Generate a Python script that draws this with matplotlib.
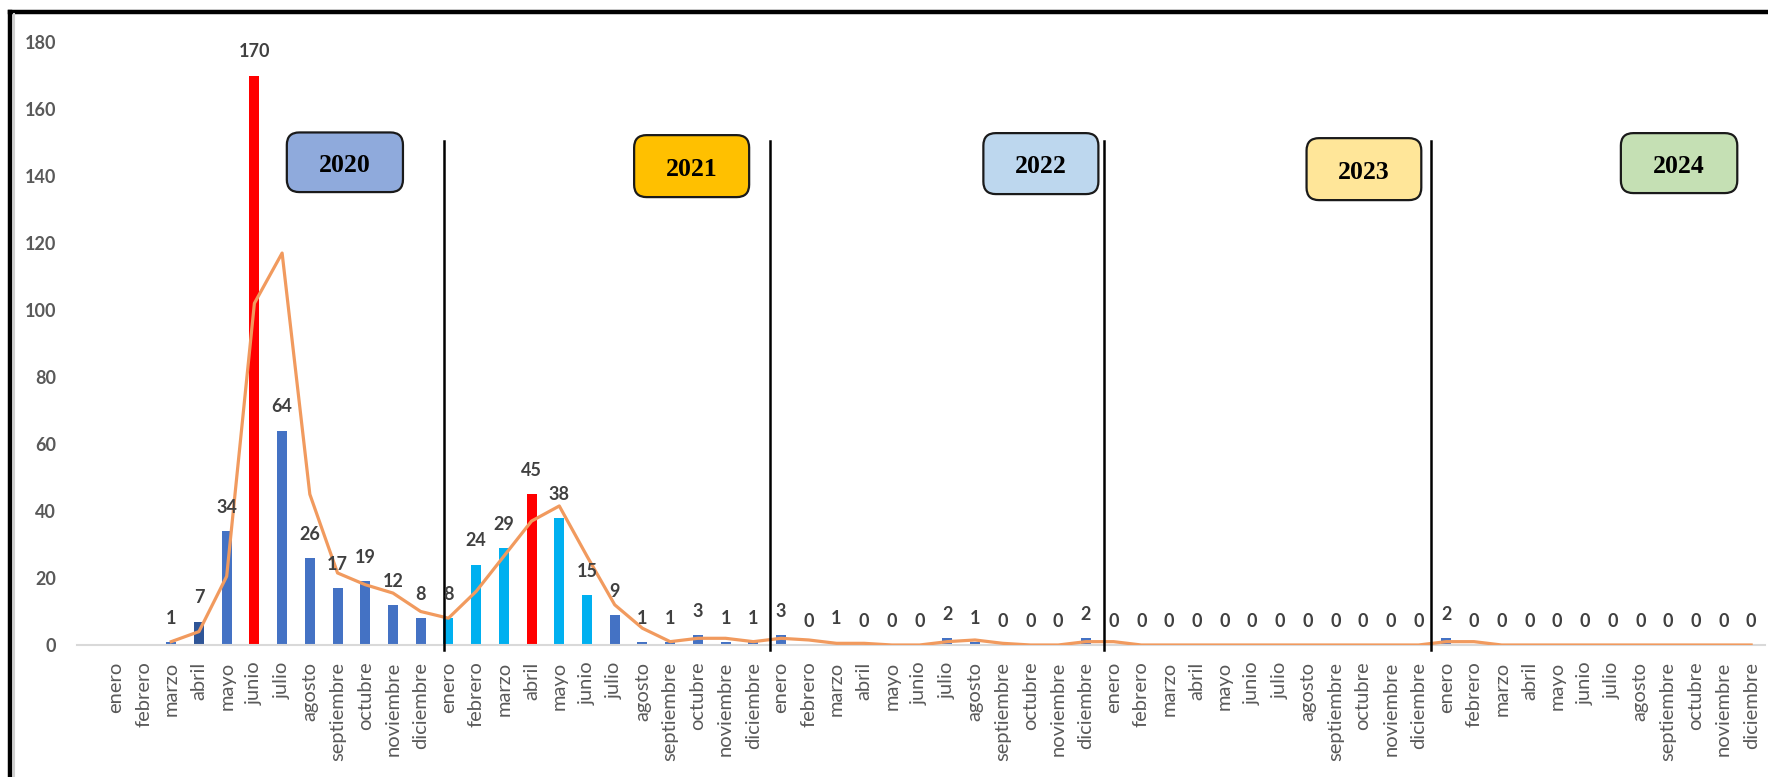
import numpy as np
import matplotlib
matplotlib.use("Agg")
import matplotlib.pyplot as plt
from matplotlib.patches import FancyBboxPatch
from matplotlib.lines import Line2D

plt.rcParams['font.family'] = ['Lato', 'DejaVu Sans']

# data
meses = ['enero', 'febrero', 'marzo', 'abril', 'mayo', 'junio', 'julio',
         'agosto', 'septiembre', 'octubre', 'noviembre', 'diciembre']
years = ['2020', '2021', '2022', '2023', '2024']

casos_2020 = [None, None, 1, 7, 34, 170, 64, 26, 17, 19, 12, 8]
casos_2021 = [8, 24, 29, 45, 38, 15, 9, 1, 1, 3, 1, 1]
casos_2022 = [3, 0, 1, 0, 0, 0, 2, 1, 0, 0, 0, 2]
casos_2023 = [0, 0, 0, 0, 0, 0, 0, 0, 0, 0, 0, 0]
casos_2024 = [2, 0, 0, 0, 0, 0, 0, 0, 0, 0, 0, 0]

# orange trend line (2-period moving average)
tendencia = [None, None, 1, 4, 20.5, 102, 117, 45, 21.5, 18, 15.5, 10,
             8, 16, 26.5, 37, 41.5, 26.5, 12, 5, 1, 2, 2, 1,
             2, 1.5, 0.5, 0.5, 0, 0, 1, 1.5, 0.5, 0, 0, 1,
             1, 0, 0, 0, 0, 0, 0, 0, 0, 0, 0, 0,
             1, 1, 0, 0, 0, 0, 0, 0, 0, 0, 0, 0]

casos = casos_2020 + casos_2021 + casos_2022 + casos_2023 + casos_2024
labels = meses * 5
x = np.arange(len(casos))
vals = np.array([np.nan if v is None else v for v in casos], dtype=float)
trend = np.array([np.nan if v is None else v for v in tendencia], dtype=float)

# styles
blue = '#4472C4'
colors = [blue] * len(casos)
colors[3] = '#2F5597'
colors[5] = '#FF0000'
for i in range(12, 18):
    colors[i] = '#00B0F0'
colors[15] = '#FF0000'

box_colors = ['#8FAADC', '#FFC000', '#BDD7EE', '#FFE699', '#C5E0B4']
# box extents (x0, x1, y0, y1) in data units
box_pos = [(6.17, 10.36, 135.2, 153.0), (18.7, 22.85, 133.7, 152.2),
           (31.3, 35.45, 134.6, 152.8), (42.96, 47.1, 132.8, 151.3),
           (54.3, 58.5, 134.9, 152.8)]
sep_x = [11.85, 23.6, 35.67, 47.44]

W, H = 1768, 777
fig = plt.figure(figsize=(W / 100, H / 100), dpi=100)
ax = fig.add_axes([77 / W, 1 - 645 / H, (1765 - 77) / W, (645 - 42) / H])

ax.bar(x, np.nan_to_num(vals), width=0.36, color=colors, zorder=2)
ax.plot(x, trend, color='#F19A5E', lw=2.3, zorder=3)

for xi, v in zip(x, vals):
    if np.isnan(v):
        continue
    ax.annotate(f'{int(v)}', (xi, v), xytext=(0, 17), textcoords='offset points',
                ha='center', va='center', fontsize=13, fontweight='bold',
                color='#404040', zorder=5)

for sx in sep_x:
    ax.plot([sx, sx], [-1.5, 150.5], color='black', lw=1.8, zorder=4,
            clip_on=False)

aspect = 27.7 / 3.35
for yr, c, (x0, x1, y0, y1) in zip(years, box_colors, box_pos):
    p = FancyBboxPatch((x0, y0), x1 - x0, y1 - y0,
                       boxstyle='round,pad=0,rounding_size=0.45',
                       mutation_aspect=aspect, fc=c, ec='#1a1a1a', lw=1.6,
                       zorder=6)
    ax.add_patch(p)
    ax.text((x0 + x1) / 2, (y0 + y1) / 2 - 1, yr, ha='center', va='center',
            fontsize=18.5, fontweight='bold', family='Liberation Serif',
            color='black', zorder=7)

ax.set_xlim(-1.4, 59.5)
ax.set_ylim(0, 180)
ax.set_yticks(np.arange(0, 181, 20))
ax.set_xticks(x)
ax.set_xticklabels(labels, rotation=90, fontsize=14.5, color='#595959')
ax.tick_params(axis='x', length=0, pad=12)
ax.tick_params(axis='y', length=0, pad=15, labelsize=13, labelcolor='#595959')
for lab in ax.get_yticklabels():
    lab.set_fontweight('bold')
for s in ['top', 'right', 'left']:
    ax.spines[s].set_visible(False)
ax.spines['bottom'].set_color('#D9D9D9')
ax.spines['bottom'].set_linewidth(1.5)

# outer frame
fig.add_artist(Line2D([10 / W, 1], [1 - 12 / H, 1 - 12 / H], color='black', lw=3.2))
fig.add_artist(Line2D([10 / W, 10 / W], [0, 1 - 12 / H], color='black', lw=3.2))
fig.add_artist(Line2D([14 / W, 14 / W], [0, 1 - 14 / H], color='#D0D0D0', lw=1.5))

fig.savefig('out.png', dpi=100)
